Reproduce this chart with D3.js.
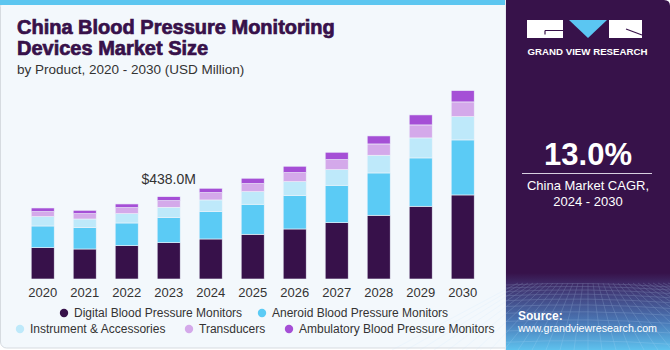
<!DOCTYPE html>
<html>
<head>
<meta charset="utf-8">
<script src="https://cdn.jsdelivr.net/npm/d3@7"></script>
<style>
  html, body { margin: 0; padding: 0; background: #ffffff; }
  svg { display: block; font-family: "Liberation Sans", Arial, sans-serif; }
</style>
</head>
<body>
<svg id="chart" width="670" height="350"></svg>
<script>
// ---------- data ----------
const years = ["2020","2021","2022","2023","2024","2025","2026","2027","2028","2029","2030"];
const seriesNames = [
  "Digital Blood Pressure Monitors",
  "Aneroid Blood Pressure Monitors",
  "Instrument & Accessories",
  "Transducers",
  "Ambulatory Blood Pressure Monitors"
];
const digital     = [166.6, 159.6, 177.2, 193.2, 212.9, 237.9, 266.1, 299.6, 339.0, 386.9, 447.1];
const aneroid     = [115.4, 113.3, 120.8, 133.0, 145.3, 159.7, 177.2, 199.0, 225.1, 257.1, 292.7];
const instrument  = [ 49.5,  46.3,  49.5,  55.3,  62.3,  67.1,  74.5,  83.0,  94.2, 106.4, 124.0];
const transducers = [ 26.6,  28.2,  31.9,  35.1,  38.8,  42.6,  47.9,  53.2,  60.1,  69.2,  78.2];
const ambulatory  = [ 19.7,  18.1,  19.7,  21.3,  23.4,  28.7,  34.1,  39.4,  42.6,  53.2,  60.1];
const colors = ["#37114a", "#5bcbf5", "#bee9fa", "#d4a9ea", "#a54fd6"];
const annotationYear = "2023";
const annotationText = "$438.0M";
const cagrText = "13.0%";
const cagrLabel = ["China Market CAGR,", "2024 - 2030"];

// ---------- build ----------
const svg = d3.select("#chart");
const defs = svg.append("defs");

// card
svg.append("rect").attr("x", 0.5).attr("y", 0.5).attr("width", 520).attr("height", 347.5)
  .attr("rx", 6).attr("fill", "#f3f8fc").attr("stroke", "#d6dbe0");
svg.append("rect").attr("x", 0).attr("y", 0).attr("width", 506).attr("height", 5).attr("fill", "#5cc6f0");

// right panel
const pg = defs.append("linearGradient").attr("id", "pg").attr("x1", 0).attr("y1", 0).attr("x2", 0).attr("y2", 1);
pg.append("stop").attr("offset", "0").attr("stop-color", "#37124a");
pg.append("stop").attr("offset", "0.78").attr("stop-color", "#37124a");
pg.append("stop").attr("offset", "0.81").attr("stop-color", "#3e2a66");
pg.append("stop").attr("offset", "0.92").attr("stop-color", "#4a78b6");
pg.append("stop").attr("offset", "1").attr("stop-color", "#5ec2ee");
svg.append("path")
  .attr("d", "M506,0 H664 Q670,0 670,6 V350 H506 Z")
  .attr("fill", "url(#pg)");
svg.append("line").attr("x1", 505.5).attr("x2", 505.5).attr("y1", 0).attr("y2", 350)
  .attr("stroke", "#e6e9f0").attr("stroke-width", 1);

// grid decoration in panel bottom
const gridG = svg.append("g").attr("opacity", 0.28).attr("stroke", "#c8e6ff").attr("stroke-width", 0.6).attr("fill", "none");
const horizon = 283;
for (let i = -14; i <= 26; i++) {
  const xb = 588 + i * 14;
  gridG.append("line").attr("x1", 588 + i * 5).attr("y1", horizon).attr("x2", xb).attr("y2", 350);
}
let yy = horizon + 2, step = 3;
while (yy < 350) {
  gridG.append("path").attr("d", `M506,${yy} Q588,${yy - 4} 670,${yy + 2}`);
  yy += step; step *= 1.18;
}

// logo
const logo = svg.append("g");
logo.append("rect").attr("x", 527).attr("y", 20).attr("width", 36).attr("height", 18).attr("fill", "#ffffff");
logo.append("path").attr("d", "M545,30.5 H563 M545,30.5 V34.5").attr("stroke", "#37124a").attr("stroke-width", 1.2).attr("fill", "none");
logo.append("path").attr("d", "M569,20 H607 L588,38 Z").attr("fill", "#5bc6f2");
logo.append("rect").attr("x", 609).attr("y", 20).attr("width", 33).attr("height", 18).attr("fill", "#ffffff");
logo.append("path").attr("d", "M626,29 L642,35").attr("stroke", "#37124a").attr("stroke-width", 1.2);
logo.append("text").attr("x", 527.5).attr("y", 55).attr("fill", "#ffffff")
  .attr("font-size", 9.2).attr("font-weight", "bold").attr("textLength", 120).attr("lengthAdjust", "spacingAndGlyphs")
  .text("GRAND VIEW RESEARCH");

// CAGR
svg.append("text").attr("x", 588).attr("y", 165).attr("text-anchor", "middle").attr("fill", "#ffffff")
  .attr("font-size", 31).attr("font-weight", "bold").text(cagrText);
svg.append("line").attr("x1", 522).attr("x2", 652).attr("y1", 173.5).attr("y2", 173.5)
  .attr("stroke", "#d8d0e0").attr("stroke-width", 1);
cagrLabel.forEach((t, i) => {
  svg.append("text").attr("x", 588).attr("y", 190 + i * 16).attr("text-anchor", "middle")
    .attr("fill", "#ffffff").attr("font-size", 13).text(t);
});
svg.append("text").attr("x", 518).attr("y", 320).attr("fill", "#ffffff").attr("font-size", 12)
  .attr("font-weight", "bold").text("Source:");
svg.append("text").attr("x", 518).attr("y", 332).attr("fill", "#ffffff").attr("font-size", 11.5)
  .attr("textLength", 139).attr("lengthAdjust", "spacingAndGlyphs").text("www.grandviewresearch.com");

// title
svg.append("text").attr("x", 17).attr("y", 34).attr("fill", "#37114a").attr("font-size", 20)
  .attr("font-weight", "bold").attr("stroke", "#37114a").attr("stroke-width", 0.7)
  .text("China Blood Pressure Monitoring");
svg.append("text").attr("x", 17).attr("y", 55).attr("fill", "#37114a").attr("font-size", 20)
  .attr("font-weight", "bold").attr("stroke", "#37114a").attr("stroke-width", 0.7)
  .text("Devices Market Size");
svg.append("text").attr("x", 17).attr("y", 74).attr("fill", "#333333").attr("font-size", 13.5)
  .text("by Product, 2020 - 2030 (USD Million)");

// scales
const x = d3.scaleBand().domain(years).range([21.7, 483.7]).paddingInner(0.452).paddingOuter(0.226);
const y = d3.scaleLinear().domain([0, 1100]).range([279, 72.2]);

const rows = years.map((yr, i) => ({
  year: yr,
  [seriesNames[0]]: digital[i],
  [seriesNames[1]]: aneroid[i],
  [seriesNames[2]]: instrument[i],
  [seriesNames[3]]: transducers[i],
  [seriesNames[4]]: ambulatory[i]
}));
const stacked = d3.stack().keys(seriesNames)(rows);

svg.append("g").selectAll("g").data(stacked).join("g")
  .attr("fill", (d, i) => colors[i])
  .selectAll("rect").data(d => d).join("rect")
  .attr("x", d => x(d.data.year))
  .attr("width", x.bandwidth())
  .attr("y", d => y(d[1]))
  .attr("height", d => y(d[0]) - y(d[1]))
  .attr("stroke", "#eef4fa").attr("stroke-width", 0.6);

// axis
const xAxis = svg.append("g").attr("transform", `translate(0,${y(0)})`)
  .call(d3.axisBottom(x).tickSize(0).tickPadding(9));
xAxis.select(".domain").remove();
xAxis.selectAll("text").attr("font-size", 13).attr("fill", "#333333")
  .attr("font-family", "'Liberation Sans', Arial, sans-serif");

// annotation
const ai = years.indexOf(annotationYear);
const total = digital[ai] + aneroid[ai] + instrument[ai] + transducers[ai] + ambulatory[ai];
svg.append("text").attr("x", x(annotationYear) + x.bandwidth() / 2).attr("y", y(total) - 13)
  .attr("text-anchor", "middle").attr("font-size", 14).attr("fill", "#333333").text(annotationText);

// legend
const legendPos = [[64, 313], [262, 313], [20, 329], [189, 329], [289, 329]];
const lg = svg.append("g");
seriesNames.forEach((n, i) => {
  lg.append("circle").attr("cx", legendPos[i][0]).attr("cy", legendPos[i][1]).attr("r", 4.2).attr("fill", colors[i]);
  lg.append("text").attr("x", legendPos[i][0] + 10).attr("y", legendPos[i][1] + 4.3)
    .attr("font-size", 12).attr("fill", "#333333").text(n);
});
</script>
</body>
</html>
